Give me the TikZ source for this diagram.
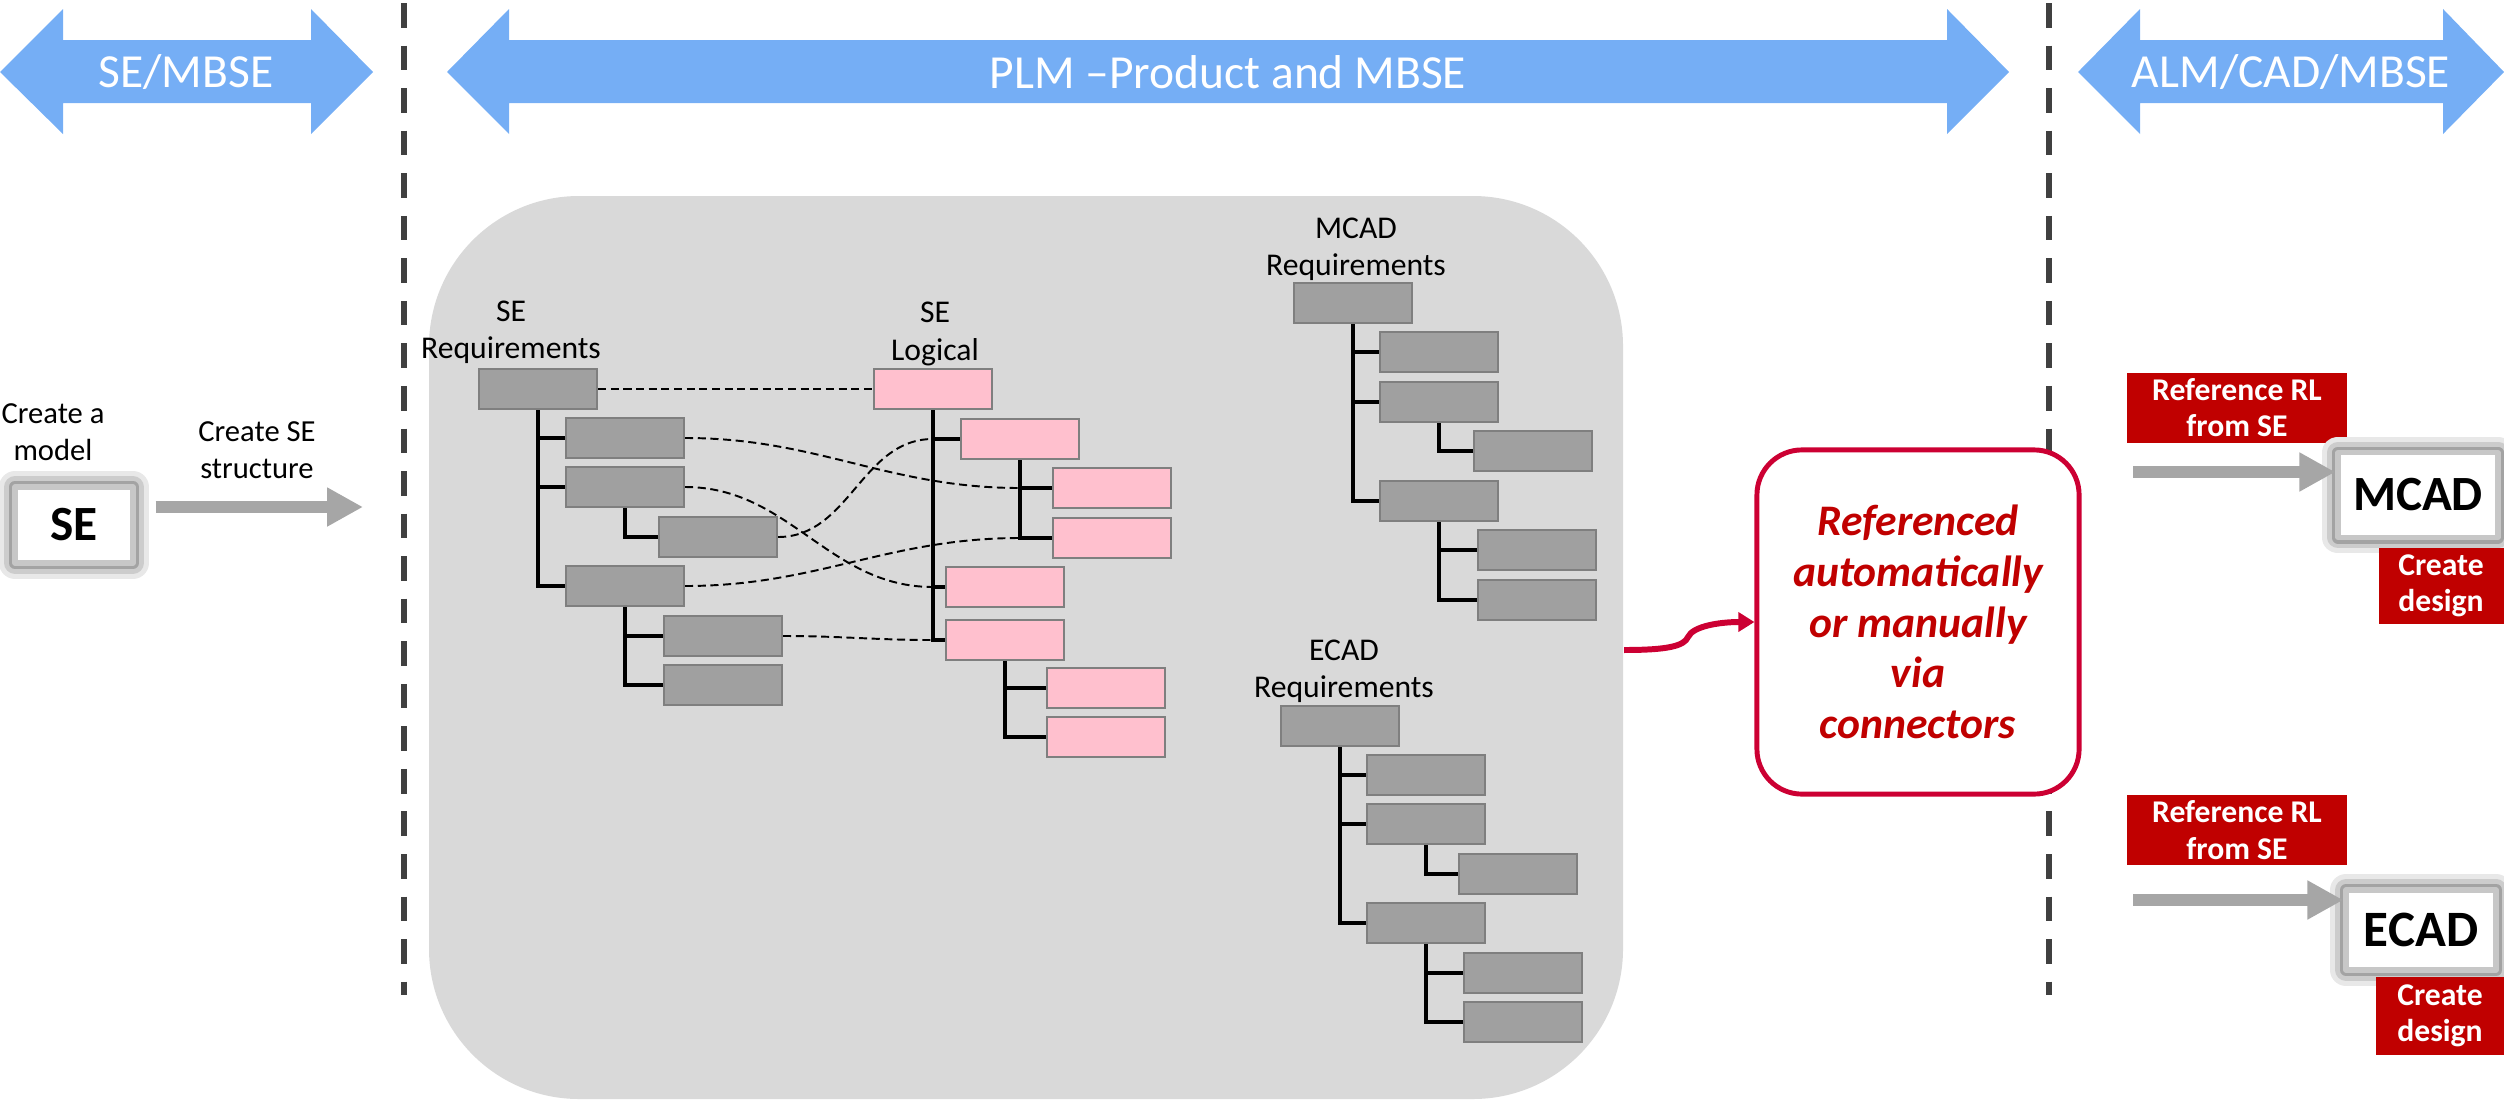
\documentclass[tikz,border=0pt]{standalone}
\usepackage{fontspec}
\setmainfont{Carlito}
\usetikzlibrary{arrows.meta}

\definecolor{bannerblue}{RGB}{117,174,245}
\definecolor{panelgray}{RGB}{217,217,217}
\definecolor{boxgray}{RGB}{160,160,160}
\definecolor{edgegray}{RGB}{127,127,127}
\definecolor{logpink}{RGB}{255,192,206}
\definecolor{refred}{RGB}{192,0,0}
\definecolor{linkred}{RGB}{204,0,51}
\definecolor{arrowgray}{RGB}{166,166,166}
\definecolor{divgray}{RGB}{64,64,64}

\tikzset{
  reqbox/.style={draw=edgegray, fill=boxgray, line width=0.6pt, minimum width=1.18cm, minimum height=0.40cm, inner sep=0pt},
  logbox/.style={reqbox, fill=logpink},
  treeline/.style={black, line width=1.1pt},
  dotlink/.style={black, line width=0.55pt, dash pattern=on 2.3pt off 1.3pt},
  divider/.style={divgray, line width=1.7pt, dash pattern=on 7pt off 5.1pt},
  bannertext/.style={text=white, font=\fontsize{13.5}{16}\selectfont},
  smalltext/.style={align=center, font=\fontsize{8.7}{10.4}\selectfont},
  treelabel/.style={align=center, font=\fontsize{9}{10.6}\selectfont},
  glowbox/.style={fill=white, draw=black!22, line width=1.5pt, line join=round, inner sep=0pt,
    preaction={draw=black!9, line width=9pt, line join=round},
    preaction={draw=black!20, line width=6pt, line join=round},
    preaction={draw=black!36, line width=3.4pt, line join=round}},
  redtag/.style={fill=refred, text=white, align=center, inner sep=0pt, font=\fontsize{9}{10.3}\selectfont\bfseries},
  grayarrow/.style={draw=arrowgray, line width=3.4pt, -{Triangle[length=10.2pt, width=10.4pt]}},
  callout/.style={draw=linkred, line width=1.4pt, fill=white, rounded corners=0.45cm, align=center, text=refred,
    minimum width=3.22cm, minimum height=3.44cm, font=\fontsize{12.4}{14.4}\selectfont\bfseries\itshape},
  redlink/.style={draw=linkred, line width=1.7pt, -{Triangle[length=4.6pt, width=5.4pt]}}
}

\begin{document}
\begin{tikzpicture}[x=0.01cm, y=-0.01cm]
  \useasboundingbox (0,0) rectangle (2504,1100);

  \draw [divider] (404,3) -- (404,995); % left divider
  \draw [divider] (2049,3) -- (2049,995); % right divider

  \fill [bannerblue] (0,72) -- (63,9) -- (63,40) -- (311,40) -- (311,9) -- (373,72) -- (311,134) -- (311,103) -- (63,103) -- (63,134) -- cycle;
  \node [bannertext] (sembse) at (186,72) {SE/MBSE};
  \fill [bannerblue] (447,72) -- (509,9) -- (509,40) -- (1947,40) -- (1947,9) -- (2009,72) -- (1947,134) -- (1947,103) -- (509,103) -- (509,134) -- cycle;
  \node [bannertext] (plmmbse) at (1228,72) {PLM –Product and MBSE};
  \fill [bannerblue] (2078,72) -- (2140,9) -- (2140,40) -- (2443,40) -- (2443,9) -- (2504,72) -- (2443,134) -- (2443,103) -- (2140,103) -- (2140,134) -- cycle;
  \node [bannertext] (almmbse) at (2291,72) {ALM/CAD/MBSE};

  \fill [panelgray, rounded corners=1.5cm] (429,196) rectangle (1623,1099); % PLM panel

  % SE side
  \node [smalltext] (mkmodel) at (53,432) {Create a\\model};
  \node [glowbox, minimum width=1.18cm, minimum height=0.76cm, font=\fontsize{14}{16}\selectfont\bfseries] (se) at (74,525) {SE};
  \node [smalltext] (mkstruct) at (257,450) {Create SE\\structure};
  \coordinate (seto) at (363,507);
  \draw [grayarrow, shorten <=5.7pt] (se.east |- seto) -- (seto);

  % SE requirements
  \node [treelabel] (reqlabel) at (511,332) {SE\\Requirements};
  \node [reqbox] (req0) at (538,389) {};
  \node [reqbox] (req1) at (625,438) {};
  \node [reqbox] (req2) at (625,487) {};
  \node [reqbox] (req2a) at (718,537) {};
  \node [reqbox] (req3) at (625,586) {};
  \node [reqbox] (req3a) at (723,636) {};
  \node [reqbox] (req3b) at (723,685) {};
  \draw [treeline] (req0.south) |- (req1.west);
  \draw [treeline] (req0.south) |- (req2.west);
  \draw [treeline] (req0.south) |- (req3.west);
  \draw [treeline] (req2.south) |- (req2a.west);
  \draw [treeline] (req3.south) |- (req3a.west);
  \draw [treeline] (req3.south) |- (req3b.west);

  % SE logical
  \node [treelabel] (loglabel) at (935,334) {SE\\Logical};
  \node [logbox] (log0) at (933,389) {};
  \node [logbox] (log1) at (1020,439) {};
  \node [logbox] (log1a) at (1112,488) {};
  \node [logbox] (log1b) at (1112,538) {};
  \node [logbox] (log2) at (1005,587) {};
  \node [logbox] (log3) at (1005,640) {};
  \node [logbox] (log3a) at (1106,688) {};
  \node [logbox] (log3b) at (1106,737) {};
  \draw [treeline] (log0.south) |- (log1.west);
  \draw [treeline] (log0.south) |- (log2.west);
  \draw [treeline] (log0.south) |- (log3.west);
  \draw [treeline] (log1.south) |- (log1a.west);
  \draw [treeline] (log1.south) |- (log1b.west);
  \draw [treeline] (log3.south) |- (log3a.west);
  \draw [treeline] (log3.south) |- (log3b.west);

  \draw [dotlink] (req0.east) -- (log0.west);
  \draw [dotlink] (req1.east) to [out=0,in=180] (log1.south |- log1a.west);
  \draw [dotlink] (req2.east) to [out=0,in=180] (log0.south |- log2.west);
  \draw [dotlink] (req2a.east) to [out=0,in=180] (log0.south |- log1.west);
  \draw [dotlink] (req3.east) to [out=0,in=180] (log1.south |- log1b.west);
  \draw [dotlink] (req3a.east) to [out=0,in=180] (log0.south |- log3.west);

  % MCAD requirements
  \node [treelabel] (mcadlabel) at (1356,249) {MCAD\\Requirements};
  \node [reqbox] (mreq0) at (1353,303) {};
  \node [reqbox] (mreq1) at (1439,352) {};
  \node [reqbox] (mreq2) at (1439,402) {};
  \node [reqbox] (mreq2a) at (1533,451) {};
  \node [reqbox] (mreq3) at (1439,501) {};
  \node [reqbox] (mreq3a) at (1537,550) {};
  \node [reqbox] (mreq3b) at (1537,600) {};
  \draw [treeline] (mreq0.south) |- (mreq1.west);
  \draw [treeline] (mreq0.south) |- (mreq2.west);
  \draw [treeline] (mreq0.south) |- (mreq3.west);
  \draw [treeline] (mreq2.south) |- (mreq2a.west);
  \draw [treeline] (mreq3.south) |- (mreq3a.west);
  \draw [treeline] (mreq3.south) |- (mreq3b.west);

  % ECAD requirements
  \node [treelabel] (ecadlabel) at (1344,671) {ECAD\\Requirements};
  \node [reqbox] (ereq0) at (1340,726) {};
  \node [reqbox] (ereq1) at (1426,775) {};
  \node [reqbox] (ereq2) at (1426,824) {};
  \node [reqbox] (ereq2a) at (1518,874) {};
  \node [reqbox] (ereq3) at (1426,923) {};
  \node [reqbox] (ereq3a) at (1523,973) {};
  \node [reqbox] (ereq3b) at (1523,1022) {};
  \draw [treeline] (ereq0.south) |- (ereq1.west);
  \draw [treeline] (ereq0.south) |- (ereq2.west);
  \draw [treeline] (ereq0.south) |- (ereq3.west);
  \draw [treeline] (ereq2.south) |- (ereq2a.west);
  \draw [treeline] (ereq3.south) |- (ereq3a.west);
  \draw [treeline] (ereq3.south) |- (ereq3b.west);

  % connectors callout
  \node [callout] (refbox) at (1918,622) {Referenced\\automatically\\or manually\\via\\connectors};
  \coordinate (plmout) at (1624,650);
  \draw [redlink] (plmout) .. controls (1668,650) and (1684,646) .. (1688,637) .. controls (1693,626) and (1720,622) .. (refbox.west);

  % MCAD side
  \node [redtag, minimum width=2.19cm, minimum height=0.70cm] (mcref) at (2237,408) {Reference RL\\from SE};
  \node [glowbox, minimum width=1.60cm, minimum height=0.85cm, font=\fontsize{14}{16}\selectfont\bfseries] (mcad) at (2418,495) {MCAD};
  \node [redtag, minimum width=1.25cm, minimum height=0.75cm] (mcdesign) at (2441,586) {Create\\design};
  \coordinate (mcfrom) at (2133,472);
  \draw [grayarrow] (mcfrom) -- (mcad.west |- mcfrom);

  % ECAD side
  \node [redtag, minimum width=2.19cm, minimum height=0.70cm] (ecref) at (2237,830) {Reference RL\\from SE};
  \node [glowbox, minimum width=1.50cm, minimum height=0.80cm, font=\fontsize{14.5}{16}\selectfont\bfseries] (ecad) at (2421,930) {ECAD};
  \node [redtag, minimum width=1.28cm, minimum height=0.77cm] (ecdesign) at (2440,1016) {Create\\design};
  \coordinate (ecfrom) at (2133,900);
  \draw [grayarrow] (ecfrom) -- (ecad.west |- ecfrom);
\end{tikzpicture}
\end{document}
